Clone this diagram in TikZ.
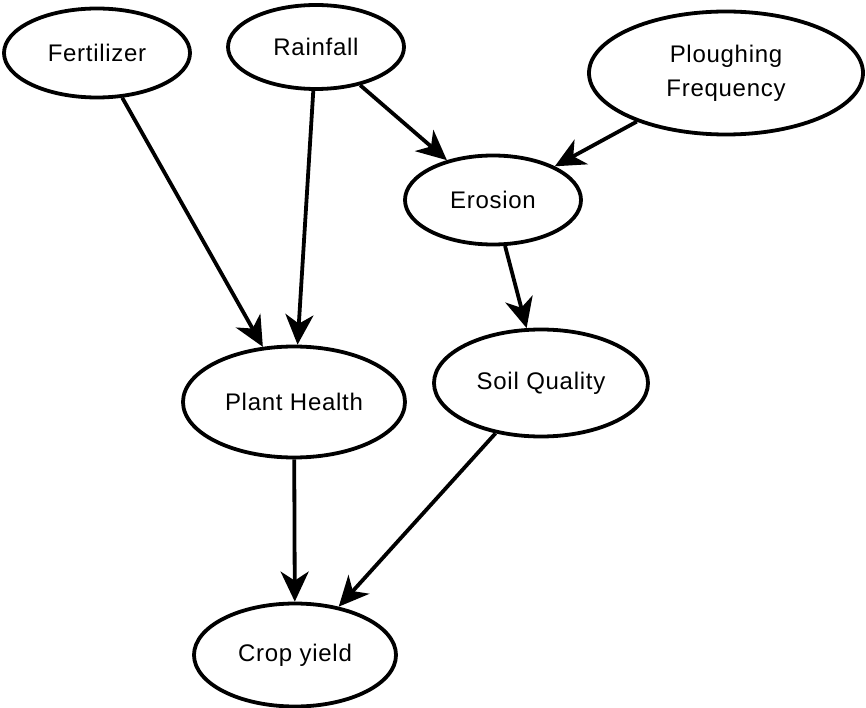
\documentclass[tikz,border=0pt]{standalone}
\usepackage{fontspec}
\setmainfont{Liberation Sans}[LetterSpace=3]
\usetikzlibrary{shapes.geometric,arrows.meta}
\begin{document}
\begin{tikzpicture}[x=1pt,y=-1pt,
  var/.style={draw=black, line width=3.8pt, ellipse, inner sep=0pt, align=center,
    font=\fontsize{24}{34}\selectfont},
  edge/.style={line width=3.8pt, -{Stealth[length=30pt,width=28pt,inset=9pt]}, shorten >=0pt}]
\useasboundingbox (0,0) rectangle (866,708);
\node[var, minimum width=186pt, minimum height=89pt] (fert) at (97,53) {Fertilizer};
\node[var, minimum width=176pt, minimum height=84pt] (rain) at (316,47) {Rainfall};
\node[var, minimum width=274pt, minimum height=123pt] (plough) at (726,73) {Ploughing\\Frequency};
\node[var, minimum width=176pt, minimum height=89pt] (eros) at (493,200) {Erosion};
\node[var, minimum width=222pt, minimum height=111pt] (plant) at (294,402) {Plant Health};
\node[var, minimum width=214pt, minimum height=107pt] (soil) at (541,383) {Soil Quality};
\node[var, minimum width=202pt, minimum height=103pt] (crop) at (295,655) {Crop yield};
\draw[edge] (fert) -- (plant);
\draw[edge] (rain) -- (plant);
\draw[edge] (rain) -- (eros);
\draw[edge] (plough) -- (eros);
\draw[edge] (eros) -- (soil);
\draw[edge] (plant) -- (crop);
\draw[edge] (soil) -- (crop);
\end{tikzpicture}
\end{document}
